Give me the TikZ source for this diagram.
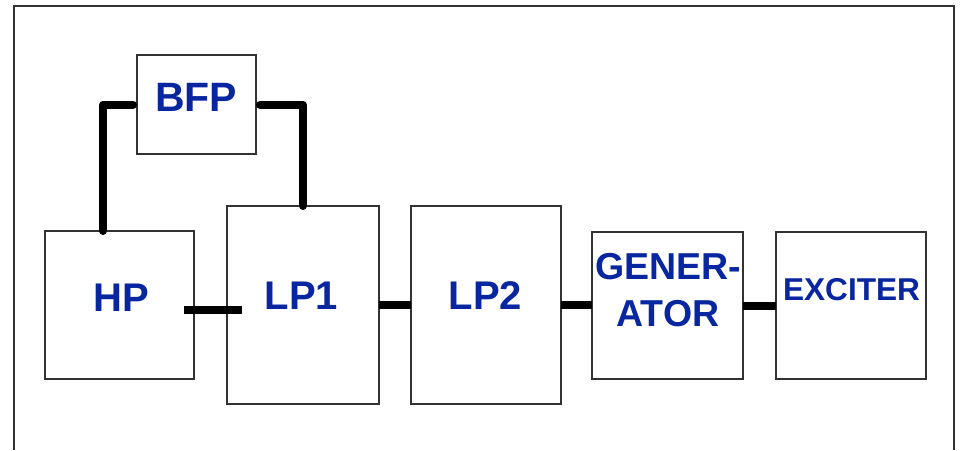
\documentclass[tikz,border=0pt]{standalone}
\usepackage{fontspec}
\setmainfont{Liberation Sans}
\definecolor{txtblue}{RGB}{8,38,160}
\definecolor{boxline}{RGB}{50,50,50}
\begin{document}
\begin{tikzpicture}[x=1pt,y=-1pt,
  blk/.style={draw=boxline,line width=2pt,inner sep=0pt,outer sep=0pt},
  lbl/.style={text=txtblue,font=\bfseries\fontsize{40}{48}\selectfont,inner sep=0pt,align=center},
  conn/.style={line width=8pt,black,line cap=butt},
  rconn/.style={line width=8pt,black,line cap=round,line join=round}]
\useasboundingbox (0,0) rectangle (961,450);
\draw[line width=2pt,boxline] (14,450) -- (14,6) -- (954,6) -- (954,450);
% boxes
\node[blk,minimum width=119pt,minimum height=99pt] (bfp) at (196.5,104.5) {};
\node[blk,minimum width=149pt,minimum height=148pt] (hp) at (119.5,305) {};
\node[blk,minimum width=152pt,minimum height=198pt] (lp1) at (303,305) {};
\node[blk,minimum width=150pt,minimum height=198pt] (lp2) at (486,305) {};
\node[blk,minimum width=151pt,minimum height=147pt] (gen) at (667.5,305.5) {};
\node[blk,minimum width=150pt,minimum height=147pt] (exc) at (851,305.5) {};
% labels
\node[lbl,font=\bfseries\fontsize{41}{48}\selectfont] (bfpt) at (196,97) {BFP};
\node[lbl] (hpt) at (121,298) {HP};
\node[lbl] (lp1t) at (301.5,296) {LP1};
\node[lbl] (lp2t) at (485.5,296) {LP2};
\node[lbl,font=\bfseries\fontsize{37.5}{47}\selectfont] (gent) at (668,290.5) {GENER-\\ATOR};
\node[lbl,font=\bfseries\fontsize{31.6}{38}\selectfont] (exct) at (851.5,290) {EXCITER};
% connectors
\draw[rconn,shorten >=4pt] ([xshift=-16.5pt]hp.north) |- (bfp.west);
\draw[rconn,shorten <=4pt] (bfp.east) -| (lp1.north);
\draw[conn] ([shift={(-10,5)}]hp.east) -- ([shift={(15,5)}]lp1.west);
\draw[conn] (lp1.east) -- (lp2.west);
\draw[conn] (lp2.east) -- (lp2.east -| gen.west);
\draw[conn] (gen.east) -- (gen.east -| exc.west);
\end{tikzpicture}
\end{document}
